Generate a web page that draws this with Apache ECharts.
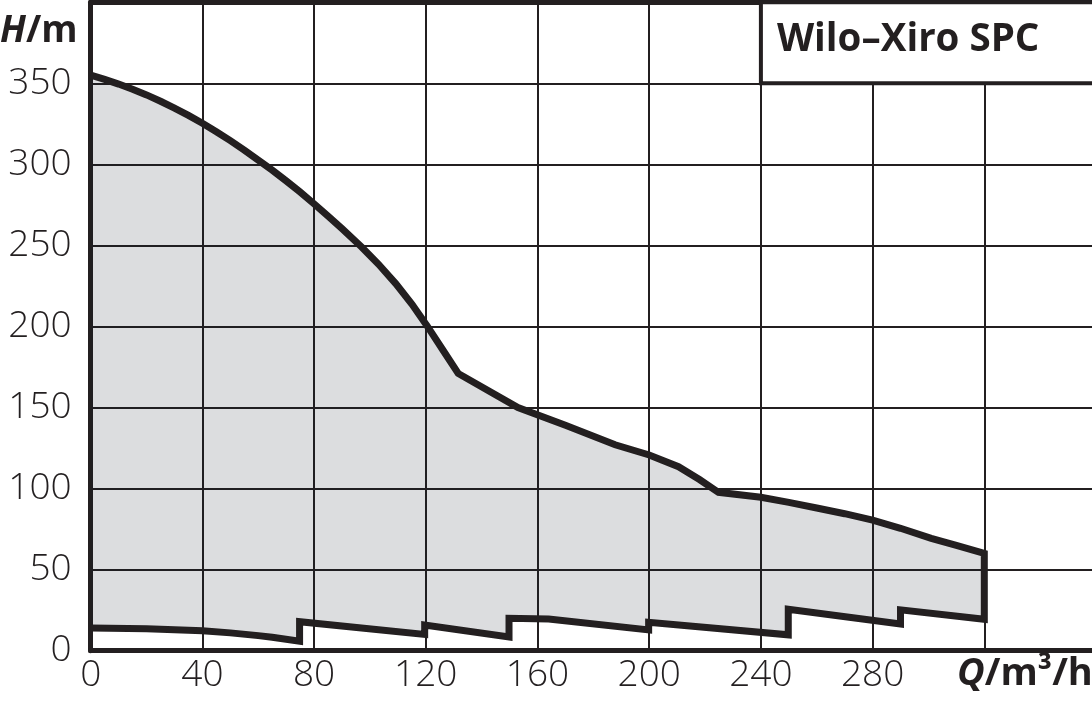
<!DOCTYPE html>
<html>
<head>
<meta charset="utf-8">
<style>
    html, body { margin: 0; padding: 0; background: #fff; overflow: hidden; }
    #chart { width: 1099px; height: 702px; }
</style>
<script src="https://cdn.jsdelivr.net/npm/echarts@6/dist/echarts.min.js"></script>
</head>
<body>
<div id="chart"></div>
<script>
// Kennlinie oben (Q in m3/h, H in m)
var upperCurve = [
    [0, 355], [5, 352.4], [10, 349.5], [15, 346.3], [20, 342.8], [25, 338.9], [30, 334.7],
    [35, 330.2], [40, 325.3], [45, 320.1], [50, 314.6], [55, 308.8], [60, 302.6], [65, 296.4],
    [70, 289.8], [75, 282.9], [80, 275.6], [85, 268.1], [90, 260.3], [97, 249], [103, 238.5],
    [109.3, 226.3], [115, 213.8], [120.6, 200], [126, 185.8], [131.6, 171], [153, 150],
    [170, 139], [187.8, 127], [200, 120.7], [210.5, 113.5], [218, 105.6], [224.8, 97.7],
    [240, 94.6], [250, 91.5], [260, 88], [270, 84.5], [280, 80.6], [290, 75.5], [301, 69.3],
    [310, 65], [320, 60]
];
// untere Grenze (treppenfoermig)
var lowerCurve = [
    [0, 14], [20, 13.6], [40, 12.3], [50, 11], [60, 9.3], [65, 8.3], [74.8, 5.8], [74.8, 17.9],
    [119.6, 10], [119.6, 15.9], [149.8, 8.4], [149.8, 20], [164, 19.5], [199.8, 12.8],
    [199.8, 17.5], [249.8, 9.8], [249.8, 25.6], [290, 16.5], [290, 25.2], [320, 19.4]
];
var xTicks = [0, 40, 80, 120, 160, 200, 240, 280];
var yTicks = [0, 50, 100, 150, 200, 250, 300, 350];
var boxArea = [[240, 350], [360, 400]];
var boxTitle = 'Wilo–Xiro SPC';

var ink = '#231f20';
var outline = upperCurve.concat(lowerCurve.slice().reverse());

var myChart = echarts.init(document.getElementById('chart'));
var option = {
    animation: false,
    grid: { left: 90.7, right: 0, top: 2.2, bottom: 51.3 },
    xAxis: [
        {
            type: 'value', min: 0, max: 360, interval: 40,
            axisLine: { show: true, lineStyle: { color: ink, width: 5 } },
            axisTick: { show: false },
            axisLabel: {
                margin: 6, color: ink, fontSize: 37, fontFamily: 'Open Sans', fontWeight: 300,
                formatter: function (v) { return xTicks.indexOf(v) >= 0 ? String(v) : ''; }
            },
            splitLine: { show: true, lineStyle: { color: ink, width: 2 } }
        },
        {
            type: 'value', position: 'top', min: 0, max: 360,
            axisLine: { show: true, lineStyle: { color: ink, width: 5 } },
            axisTick: { show: false }, axisLabel: { show: false }, splitLine: { show: false }
        }
    ],
    yAxis: {
        type: 'value', min: 0, max: 400, interval: 50,
        axisLine: { show: true, lineStyle: { color: ink, width: 5 } },
        axisTick: { show: false },
        axisLabel: {
            margin: 19, color: ink, fontSize: 37, fontFamily: 'Open Sans', fontWeight: 300,
            formatter: function (v) { return yTicks.indexOf(v) >= 0 ? String(v) : ''; }
        },
        splitLine: { show: true, lineStyle: { color: ink, width: 2 } }
    },
    graphic: [
        {
            type: 'text', left: 0, top: 13,
            style: {
                text: '{i|H}{b|/m}',
                rich: {
                    i: { fontSize: 37, fontWeight: 'bold', fontStyle: 'italic', fontFamily: 'Open Sans', fill: ink },
                    b: { fontSize: 37, fontWeight: 'bold', fontFamily: 'Open Sans', fill: ink }
                }
            }
        },
        {
            type: 'text', left: 957, top: 655,
            style: {
                text: '{i|Q}{b|/m³/h}',
                rich: {
                    i: { fontSize: 38, fontWeight: 'bold', fontStyle: 'italic', fontFamily: 'Open Sans', fill: ink },
                    b: { fontSize: 38, fontWeight: 'bold', fontFamily: 'Open Sans', fill: ink }
                }
            }
        }
    ],
    series: [
        {
            // Flaeche zwischen den Kurven
            type: 'custom',
            data: [[0, 0]],
            encode: { x: 0, y: 1 },
            renderItem: function (params, api) {
                var pts = outline.map(function (p) { return api.coord(p); });
                return {
                    type: 'polygon',
                    shape: { points: pts },
                    style: { fill: 'rgba(20,24,40,0.15)', stroke: null }
                };
            }
        },
        {
            type: 'line',
            data: outline,
            symbol: 'none',
            lineStyle: { color: ink, width: 7, join: 'miter' },
            markArea: {
                silent: true,
                itemStyle: { color: '#fff', borderColor: ink, borderWidth: 4 },
                label: {
                    show: true, position: 'insideLeft', distance: 18, offset: [0, -3],
                    color: ink, fontSize: 38.5, fontWeight: 'bold', fontFamily: 'Open Sans'
                },
                data: [[
                    { name: boxTitle, coord: boxArea[0] },
                    { coord: boxArea[1] }
                ]]
            }
        }
    ]
};
myChart.setOption(option);
</script>
</body>
</html>
